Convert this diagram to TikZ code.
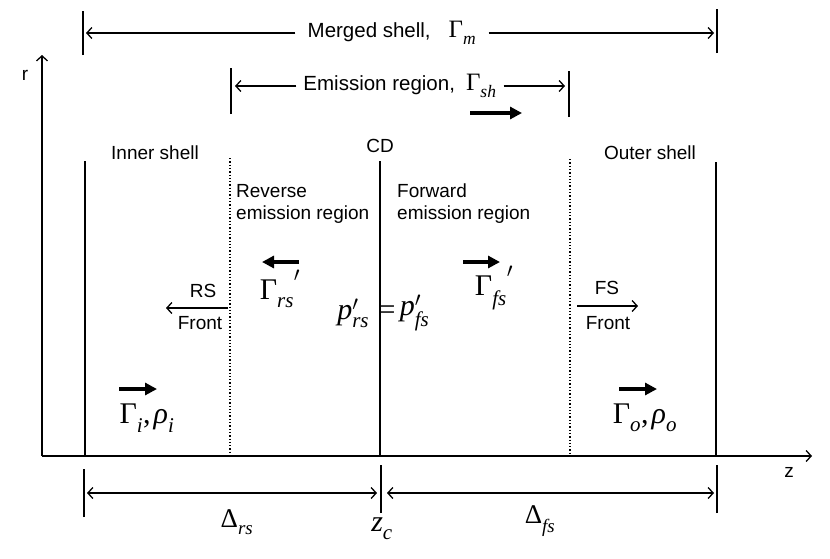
\documentclass[tikz,border=0pt]{standalone}
\usepackage{fontspec}
\setmainfont{Liberation Sans}
\newfontfamily\tms{Liberation Serif}
\usetikzlibrary{arrows.meta,positioning}
\newcommand{\sbs}[1]{\raisebox{-0.14em}{\textsubscript{\itshape #1}}}
\newcommand{\prm}{\textsuperscript{$\prime$}}
\newcommand{\gprm}{\raisebox{0.3em}{\prm}}

\begin{document}
\begin{tikzpicture}[x=1pt,y=-1pt,
  lbl/.style={font=\fontsize{19}{22}\selectfont,inner sep=0pt},
  toplbl/.style={font=\fontsize{20.5}{24}\selectfont,inner sep=0pt},
  mth/.style={font=\tms\fontsize{30}{32}\selectfont,inner sep=0pt},
  wall/.style={line width=1.3pt},
  frontwall/.style={line width=1.3pt,dotted},
  barb/.style={-{Straight Barb[length=5pt,width=11pt]},line width=1.3pt},
  dimline/.style={{Straight Barb[length=5pt,width=11pt]}-{Straight Barb[length=5pt,width=11pt]},line width=1.3pt},
  flow/.style={-{Triangle[length=12pt,width=12pt]},line width=3.5pt}]
  \useasboundingbox (0,0) rectangle (830,558);

  % Axes
  \coordinate (O) at (42,456);
  \coordinate (rtip) at (42,55);
  \coordinate (ztip) at (812,456);
  \draw[barb] (O) -- (rtip);
  \draw[barb] (O) -- (ztip);
  \node[lbl] (rlab) at (25,75) {r};
  \node[lbl] (zlab) at (789,472) {z};

  % Shell boundaries and fronts
  \coordinate (innertop) at (85,161);
  \coordinate (rstop) at (230,158);
  \coordinate (cdtop) at (380,161);
  \coordinate (fstop) at (570,159);
  \coordinate (outertop) at (716,162);
  \draw[wall] (innertop) -- (innertop |- O);
  \draw[frontwall] (rstop) -- (rstop |- O);
  \draw[wall] (cdtop) -- (cdtop |- O);
  \draw[frontwall] (fstop) -- (fstop |- O);
  \draw[wall] (outertop) -- (outertop |- O);

  \node[lbl] (innerlab) at (155,153) {Inner shell};
  \node[lbl] (cdlab) at (380,146) {CD};
  \node[lbl] (outerlab) at (650,153) {Outer shell};
  \node[lbl,anchor=west,align=left] (revlab) at (236,204) {Reverse\\emission region};
  \node[lbl,anchor=west,align=left] (fwdlab) at (397,204) {Forward\\emission region};

  % Merged shell
  \coordinate (mL) at (83,33);
  \coordinate (mR) at (717,31);
  \draw[wall] ([yshift=-22pt]mL) -- ([yshift=22pt]mL);
  \draw[wall] ([yshift=-22pt]mR) -- ([yshift=22pt]mR);
  \node[toplbl,inner xsep=12pt] (merged) at (392,33) {Merged shell,\hspace{18pt}{\tms\fontsize{25}{27}\selectfont Γ\sbs{m}}};
  \draw[barb] (merged.west) -- ([xshift=3pt]mL |- merged.west);
  \draw[barb] (merged.east) -- ([xshift=-3pt]mR |- merged.east);

  % Emission region
  \coordinate (eL) at (231,91);
  \coordinate (eR) at (569,94);
  \draw[wall] ([yshift=-23pt]eL) -- ([yshift=23pt]eL);
  \draw[wall] ([yshift=-23pt]eR) -- ([yshift=23pt]eR);
  \node[toplbl,inner xsep=7pt] (emis) at (400,86) {Emission region,\hspace{11pt}{\tms\fontsize{25}{27}\selectfont Γ\sbs{sh}}};
  \draw[barb] (emis.west) -- ([xshift=4pt]eL |- emis.west);
  \draw[barb] (emis.east) -- ([xshift=-4pt]eR |- emis.east);
  \coordinate (shA) at (470,113);
  \draw[flow] (shA) -- ++(52,0);

  % Shocked regions
  \coordinate (rsA) at (299,262);
  \draw[flow] (rsA) -- ++(-37,0);
  \node[mth] (gamrs) at (280,289) {Γ\sbs{rs}\gprm};
  \coordinate (fsA) at (463,262);
  \draw[flow] (fsA) -- ++(37,0);
  \node[mth] (gamfs) at (494,288) {Γ\sbs{fs}\gprm};
  \node[mth] (eqsign) at (387,313) {=};
  \node[mth,left=9pt of eqsign] (prs) {{\itshape p}\rlap{\prm}\sbs{rs}};
  \node[mth,right=4pt of eqsign] (pfs) {{\itshape p}\rlap{\prm}\sbs{fs}};

  % Reverse and forward shock fronts
  \node[lbl] (rslab) at (203,291) {RS};
  \node[lbl] (rsfront) at (200,323) {Front};
  \coordinate (rsB) at (228,308);
  \draw[barb] (rsB) -- (rsB -| 166,0);
  \node[lbl] (fslab) at (607,288) {FS};
  \node[lbl] (fsfront) at (608,323) {Front};
  \coordinate (fsB) at (577,306);
  \draw[barb] (fsB) -- (fsB -| 638,0);

  % Unshocked shells
  \coordinate (inA) at (119,389);
  \draw[flow] (inA) -- ++(38,0);
  \node[mth] (gami) at (147,418) {Γ\sbs{i},\hspace{3pt}{\itshape ρ}\sbs{i}};
  \coordinate (outA) at (619,389);
  \draw[flow] (outA) -- ++(38,0);
  \node[mth] (gamo) at (645,418) {Γ\sbs{o},\hspace{3pt}{\itshape ρ}\sbs{o}};

  % Widths
  \coordinate (dL) at (84,493);
  \coordinate (dC) at (381,489);
  \coordinate (dR) at (717,489);
  \draw[wall] ([yshift=-24pt]dL) -- ([yshift=24pt]dL);
  \draw[wall] ([yshift=-24pt]dC) -- ([yshift=24pt]dC);
  \draw[wall] ([yshift=-24pt]dR) -- ([yshift=24pt]dR);
  \draw[dimline] ([xshift=3pt]dL) -- ([xshift=-4pt]dC |- dL);
  \draw[dimline] ([xshift=6pt]dC |- dL) -- ([xshift=-3pt]dR |- dL);
  \node[mth,font=\tms\fontsize{27}{29}\selectfont] (delrs) at (237,522) {Δ\sbs{rs}};
  \node[mth] (zc) at (382,529) {{\itshape z}\sbs{c}};
  \node[mth,font=\tms\fontsize{27}{29}\selectfont] (delfs) at (540,521) {Δ\sbs{fs}};
\end{tikzpicture}
\end{document}
